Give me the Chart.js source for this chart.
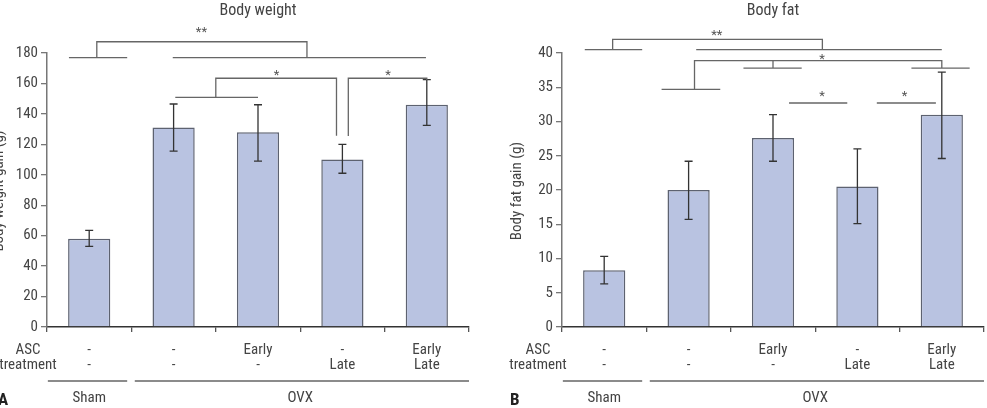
<!DOCTYPE html>
<html>
<head>
<meta charset="utf-8">
<script src="https://cdn.jsdelivr.net/npm/chart.js@4/dist/chart.umd.min.js"></script>
<style>
  body { margin: 0; background: #fff; }
  #wrap { position: relative; width: 987px; height: 408px; }
  canvas { position: absolute; top: 0; }
</style>
</head>
<body>
<div id="wrap">
  <canvas id="chartA" width="480" height="408" style="left:0"></canvas>
  <canvas id="chartB" width="497" height="408" style="left:490px"></canvas>
</div>
<script>
// ---- data ----
var ascRow1 = ['-', '-', 'Early', '-', 'Early'];
var ascRow2 = ['-', '-', '-', 'Late', 'Late'];
var groupNames = ['Sham', 'OVX'];

var weightMeans   = [58, 131, 128, 110, 146];
var weightErrUp   = [5.5, 15.5, 18, 10, 16.5];
var weightErrDown = [5, 15.5, 19, 9, 13.5];

var fatMeans   = [8.3, 20, 27.6, 20.5, 31];
var fatErrUp   = [2, 4.2, 3.4, 5.5, 6.2];
var fatErrDown = [2, 4.3, 3.4, 5.4, 6.4];

// significance brackets, [category index, value] points
var weightBrackets = [
  [[-0.24, 177], [0.45, 177]],
  [[0.99, 177], [3.99, 177]],
  [[0.09, 177], [0.09, 187.4], [2.58, 187.4], [2.58, 177]],
  [[1.02, 150.9], [2, 150.9]],
  [[1.5, 150.9], [1.5, 163.4], [2.93, 163.4], [2.93, 125.7]],
  [[3.07, 125.5], [3.07, 163.4], [4, 163.4], [4, 162.3]]
];
var weightStars = [['**', 1.33, 196], ['*', 2.22, 167.5], ['*', 3.54, 167.5]];

var fatBrackets = [
  [[-0.23, 40.5], [0.45, 40.5]],
  [[1.09, 40.5], [4, 40.5]],
  [[0.1, 40.5], [0.1, 42], [2.585, 42], [2.585, 40.5]],
  [[1.07, 34.7], [1.07, 38.9], [4, 38.9], [4, 37.8]],
  [[0.68, 34.7], [1.375, 34.7]],
  [[2, 38.9], [2, 37.8]],
  [[1.65, 37.8], [2.34, 37.8]],
  [[3.64, 37.8], [4.33, 37.8]],
  [[2.19, 32.7], [2.88, 32.7]],
  [[3.23, 32.7], [3.93, 32.7]]
];
var fatStars = [['**', 1.335, 43], ['*', 2.58, 39.6], ['*', 2.58, 34.1], ['*', 3.56, 34.1]];

var FONT = "'Liberation Sans Narrow', 'Arial Narrow', 'Roboto Condensed', Roboto, sans-serif";
var TEXT = '#444';

function makeChart(id, o) {
  var extras = {
    id: 'extras',
    afterDatasetsDraw: function (chart) {
      var ctx = chart.ctx, x = chart.scales.x, y = chart.scales.y;
      ctx.save();
      // error bars
      ctx.strokeStyle = '#333';
      ctx.lineWidth = 1.3;
      o.means.forEach(function (m, i) {
        var px = x.getPixelForValue(i);
        var yt = y.getPixelForValue(m + o.up[i]);
        var yb = y.getPixelForValue(m - o.down[i]);
        ctx.beginPath();
        ctx.moveTo(px, yt); ctx.lineTo(px, yb);
        ctx.moveTo(px - 4, yt); ctx.lineTo(px + 4, yt);
        ctx.moveTo(px - 4, yb); ctx.lineTo(px + 4, yb);
        ctx.stroke();
      });
      // brackets
      ctx.strokeStyle = '#666';
      ctx.lineWidth = 1.3;
      o.brackets.forEach(function (pts) {
        ctx.beginPath();
        pts.forEach(function (p, k) {
          var px = x.getPixelForValue(p[0]), py = y.getPixelForValue(p[1]);
          if (k === 0) ctx.moveTo(px, py); else ctx.lineTo(px, py);
        });
        ctx.stroke();
      });
      ctx.fillStyle = '#555';
      ctx.font = '13px ' + FONT;
      ctx.textAlign = 'center';
      ctx.textBaseline = 'alphabetic';
      o.stars.forEach(function (s) {
        ctx.fillText(s[0], x.getPixelForValue(s[1]), y.getPixelForValue(s[2]) + 7);
      });

      // title
      var ca = chart.chartArea;
      ctx.fillStyle = TEXT;
      ctx.font = '16px ' + FONT;
      ctx.textBaseline = 'middle';
      ctx.fillText(o.title, (ca.left + ca.right) / 2, 11);

      // y axis title
      ctx.font = '15px ' + FONT;
      ctx.save();
      ctx.translate(o.yTitleX, (ca.top + ca.bottom) / 2 + 1);
      ctx.rotate(-Math.PI / 2);
      ctx.fillText(o.yTitle, 0, 0);
      ctx.restore();

      // category rows
      ctx.fillText('ASC', o.rowLabelX, 350);
      ctx.fillText('treatment', o.rowLabelX, 365);
      for (var i = 0; i < ascRow1.length; i++) {
        var px = x.getPixelForValue(i);
        ctx.fillText(ascRow1[i], px, 350);
        ctx.fillText(ascRow2[i], px, 365);
      }
      // group lines
      ctx.strokeStyle = '#666';
      ctx.lineWidth = 1.3;
      ctx.beginPath();
      ctx.moveTo(x.getPixelForValue(-0.49), 381); ctx.lineTo(x.getPixelForValue(0.45), 381);
      ctx.moveTo(x.getPixelForValue(0.54), 381); ctx.lineTo(x.getPixelForValue(4.5), 381);
      ctx.stroke();
      ctx.fillText(groupNames[0], x.getPixelForValue(0), 398);
      ctx.fillText(groupNames[1], x.getPixelForValue(2.5), 398);

      // panel letter
      ctx.fillStyle = '#222';
      ctx.font = 'bold 17px ' + FONT;
      ctx.textAlign = 'left';
      ctx.fillText(o.letter, o.letterX, 401);
      ctx.restore();
    }
  };

  return new Chart(document.getElementById(id).getContext('2d'), {
    type: 'bar',
    data: {
      labels: ascRow1,
      datasets: [{
        data: o.means,
        backgroundColor: '#b9c3e1',
        borderColor: '#5d6270',
        borderWidth: 1.5,
        barPercentage: 0.5,
        categoryPercentage: 1
      }]
    },
    options: {
      responsive: false,
      animation: false,
      layout: { padding: { left: 0, top: 53, right: o.padRight, bottom: 81 } },
      plugins: { legend: { display: false }, tooltip: { enabled: false } },
      scales: {
        x: {
          grid: { drawOnChartArea: false, tickLength: 5, color: '#555', lineWidth: 1.3 },
          border: { color: '#333', width: 1.5 },
          ticks: { display: false },
          afterFit: function (s) { s.height = 0; }
        },
        y: {
          min: 0,
          max: o.max,
          ticks: { stepSize: o.step, color: TEXT, font: { family: FONT, size: 15 }, padding: 3 },
          grid: { drawOnChartArea: false, tickLength: 6, color: '#777', lineWidth: 1.3 },
          border: { color: '#777', width: 1.5 },
          afterFit: function (s) { s.width = o.yWidth; }
        }
      }
    },
    plugins: [extras]
  });
}

makeChart('chartA', {
  means: weightMeans, up: weightErrUp, down: weightErrDown,
  brackets: weightBrackets, stars: weightStars,
  title: 'Body weight', yTitle: 'Body weight gain (g)', yTitleX: -1,
  rowLabelX: 28, letter: 'A', letterX: -2,
  max: 180, step: 20, yWidth: 47, padRight: 11
});

makeChart('chartB', {
  means: fatMeans, up: fatErrUp, down: fatErrDown,
  brackets: fatBrackets, stars: fatStars,
  title: 'Body fat', yTitle: 'Body fat gain (g)', yTitleX: 27,
  rowLabelX: 48, letter: 'B', letterX: 20,
  max: 40, step: 5, yWidth: 72, padRight: 3
});
</script>
</body>
</html>
